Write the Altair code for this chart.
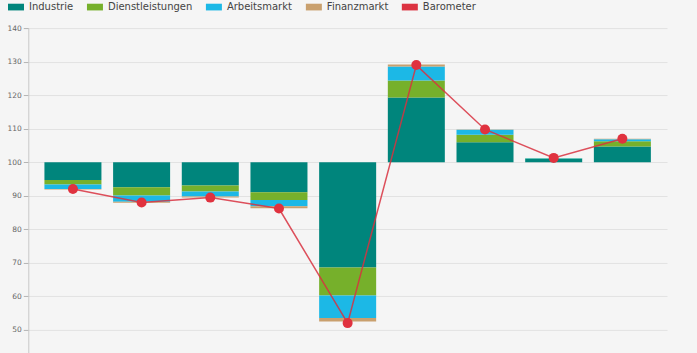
import altair as alt
import pandas as pd

perioden = ["Q2 2019", "Q3 2019", "Q4 2019", "Q1 2020", "Q2 2020",
            "Q3 2020", "Q4 2020", "Q1 2021", "Q2 2021"]
industrie = [-5.3, -7.45, -6.95, -8.95, -31.4, 19.3, 6.0, 1.0, 4.7]
dienstleistungen = [-1.3, -2.5, -1.8, -2.3, -8.35, 5.1, 2.2, 0.1, 1.6]
arbeitsmarkt = [-1.4, -1.8, -1.5, -1.9, -6.75, 4.2, 1.5, 0.2, 0.6]
finanzmarkt = [-0.1, -0.3, -0.3, -0.6, -1.0, 0.6, 0.1, 0.0, 0.1]
barometer = [92.0, 88.0, 89.45, 86.2, 52.0, 129.0, 109.8, 101.3, 107.0]
y_ticks = [50, 60, 70, 80, 90, 100, 110, 120, 130, 140]

komponenten = ["Industrie", "Dienstleistungen", "Arbeitsmarkt", "Finanzmarkt"]
farben = ["#00857c", "#76b02b", "#1cb8e6", "#c9a06e", "#dc3341"]
serien = [industrie, dienstleistungen, arbeitsmarkt, finanzmarkt]

rows = []
for k, (name, werte) in enumerate(zip(komponenten, serien)):
    for p, w in zip(perioden, werte):
        rows.append({"periode": p, "komponente": name, "wert": w, "ord": k})
bars_df = pd.DataFrame(rows)
line_df = pd.DataFrame({"periode": perioden, "barometer": barometer})

x_enc = alt.X("periode:N", sort=perioden, axis=None,
              scale=alt.Scale(paddingInner=0.17, paddingOuter=0.235))
y_scale = alt.Scale(domain=[43.1, 140.05], nice=False, zero=False)
y_axis = alt.Axis(values=y_ticks,
                  title=None, grid=True, gridColor="#e2e2e2",
                  domainColor="#c8c8c8", tickColor="#b4b4b4", tickSize=5,
                  labelFontSize=7.5, labelColor="#666666", labelPadding=2,
                  labelFont="DejaVu Sans", labelOverlap=False, labelFlush=False)

bars = alt.Chart(bars_df).transform_stack(
    stack="wert", groupby=["periode"], as_=["s0", "s1"],
    sort=[alt.SortField("ord", order="ascending")], offset="zero"
).transform_calculate(
    y0="100 + datum.s0", y1="100 + datum.s1"
).mark_bar().encode(
    x=x_enc,
    y=alt.Y("y0:Q", scale=y_scale, axis=y_axis),
    y2="y1:Q",
    color=alt.Color("komponente:N",
                    scale=alt.Scale(domain=komponenten + ["Barometer"], range=farben),
                    legend=alt.Legend(title=None, orient="none", direction="horizontal",
                                      columns=5, legendX=-20.3, legendY=-29,
                                      symbolType="M-1,-0.42L1,-0.42L1,0.42L-1,0.42Z",
                                      symbolSize=256, symbolStrokeWidth=0,
                                      symbolOpacity=1,
                                      labelFont="DejaVu Sans", labelFontSize=10,
                                      labelColor="#444444", labelOffset=5,
                                      columnPadding=13, padding=0)),
)

line = alt.Chart(line_df).mark_line(color="#d8313f", strokeWidth=1.5, strokeOpacity=0.85).encode(
    x=x_enc,
    y=alt.Y("barometer:Q", scale=y_scale, axis=y_axis),
)
points = alt.Chart(line_df).mark_circle(color="#e0323f", size=100, opacity=1).encode(
    x=x_enc,
    y=alt.Y("barometer:Q", scale=y_scale, axis=y_axis),
)

chart = alt.layer(bars, line, points).properties(
    width=639, height=325,
    autosize=alt.AutoSizeParams(type="none"),
    padding={"left": 28.3, "top": 28, "right": 30, "bottom": 0},
    background="#f5f5f5",
).configure_view(stroke=None)

chart.save("out.html", embed_options={"renderer": "svg", "actions": False})
